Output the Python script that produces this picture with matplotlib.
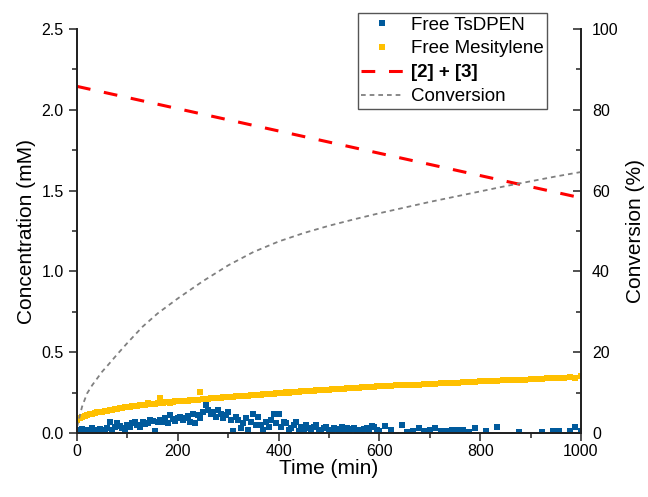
import numpy as np
import matplotlib.pyplot as plt

plt.rcParams['font.family'] = ['Liberation Sans', 'DejaVu Sans']

# sampling times: every 5 min up to 600 min, then every ~11 min up to 1000 min
timeDense = np.arange(0, 601, 5)
timeSparse = np.linspace(600, 1000, 37)[1:]
timeAll = np.concatenate([timeDense, timeSparse])

mesityleneDense = [
    0.078, 0.092, 0.100, 0.106, 0.111, 0.116, 0.119, 0.124, 0.127, 0.130,
    0.133, 0.137, 0.139, 0.142, 0.145, 0.148, 0.151, 0.152, 0.156, 0.158,
    0.160, 0.162, 0.165, 0.166, 0.168, 0.171, 0.172, 0.176, 0.186, 0.177,
    0.181, 0.180, 0.184, 0.214, 0.186, 0.189, 0.190, 0.188, 0.193, 0.195,
    0.196, 0.198, 0.199, 0.201, 0.200, 0.204, 0.204, 0.207, 0.206, 0.252,
    0.209, 0.212, 0.211, 0.215, 0.214, 0.217, 0.216, 0.219, 0.220, 0.222,
    0.221, 0.224, 0.225, 0.226, 0.228, 0.229, 0.230, 0.232, 0.231, 0.234,
    0.235, 0.236, 0.238, 0.238, 0.240, 0.241, 0.242, 0.244, 0.243, 0.246,
    0.247, 0.248, 0.249, 0.251, 0.250, 0.253, 0.254, 0.255, 0.256, 0.257,
    0.258, 0.259, 0.260, 0.262, 0.262, 0.264, 0.264, 0.266, 0.266, 0.268,
    0.268, 0.270, 0.270, 0.272, 0.272, 0.274, 0.274, 0.276, 0.276, 0.278,
    0.278, 0.280, 0.280, 0.282, 0.282, 0.284, 0.284, 0.286, 0.286, 0.288,
    0.289,
]
mesityleneSparse = [
    0.292, 0.293, 0.295, 0.297, 0.298, 0.300, 0.300, 0.303, 0.305, 0.306,
    0.307, 0.309, 0.311, 0.312, 0.314, 0.315, 0.317, 0.319, 0.320, 0.321,
    0.323, 0.325, 0.326, 0.328, 0.330, 0.331, 0.333, 0.334, 0.335, 0.338,
    0.339, 0.340, 0.342, 0.344, 0.338, 0.350,
]

tsdpenDense = [
    0.020, 0.010, 0.025, 0.005, 0.020, 0.015, 0.030, 0.010, 0.020, 0.025,
    0.005, 0.020, 0.030, 0.070, 0.020, 0.035, 0.060, 0.045, 0.030, 0.010,
    0.050, 0.040, 0.060, 0.065, 0.050, 0.035, 0.070, 0.055, 0.060, 0.080,
    0.075, 0.010, 0.065, 0.080, 0.070, 0.090, 0.060, 0.110, 0.085, 0.075,
    0.095, 0.100, 0.080, 0.090, 0.105, 0.070, 0.120, 0.060, 0.110, 0.090,
    0.130, 0.175, 0.140, 0.115, 0.130, 0.100, 0.145, 0.120, 0.090, 0.110,
    0.130, 0.080, 0.010, 0.100, 0.080, 0.030, 0.060, 0.090, 0.020, 0.070,
    0.120, 0.050, 0.100, 0.050, 0.020, 0.070, 0.040, 0.080, 0.120, 0.060,
    0.120, 0.040, 0.070, 0.060, 0.020, 0.030, 0.050, 0.070, 0.010, 0.040,
    0.020, 0.050, 0.030, 0.015, 0.040, 0.050, 0.020, 0.010, 0.030, 0.040,
    0.020, 0.015, 0.030, 0.025, 0.010, 0.035, 0.020, 0.030, 0.010, 0.025,
    0.030, 0.015, 0.020, 0.010, 0.025, 0.030, 0.015, 0.045, 0.040, 0.020,
    0.010,
]
tsdpenSparse = [
    0.045, 0.020, -0.010, 0.050, 0.005, 0.015, 0.030, 0.010, 0.020, 0.030,
    0.015, 0.010, 0.020, 0.020, 0.020, 0.005, 0.030, -0.010, 0.010, -0.020,
    0.035, -0.020, -0.020, -0.010, 0.005, -0.020, -0.030, -0.020, 0.005, -0.020,
    0.012, 0.012, -0.010, 0.012, 0.035, 0.012,
]

# [2] + [3] (mM)
sumTime = [0, 1000]
sumConc = [2.145, 1.455]

# conversion (%)
convTime = [0, 10, 20, 30, 40, 50, 60, 80, 100, 130, 160, 200, 250, 300, 350,
            400, 450, 500, 550, 600, 650, 700, 750, 800, 850, 900, 950, 1000]
convValue = [1.5, 6.5, 9.8, 11.8, 13.5, 15.2, 16.6, 19.5, 22.3, 26.3, 29.6, 33.3,
             37.6, 41.5, 44.8, 47.4, 49.5, 51.3, 52.9, 54.4, 55.8, 57.2, 58.5,
             59.8, 61.1, 62.3, 63.5, 64.6]

mesitylene = mesityleneDense + mesityleneSparse
tsdpen = tsdpenDense + tsdpenSparse

fig = plt.figure(figsize=(6.48, 4.97), dpi=100)
ax = fig.add_axes([77 / 648, 1 - 433 / 497, 504 / 648, 404 / 497])
ax2 = ax.twinx()

p1, = ax.plot(timeAll, tsdpen, 's', color='#005a9c', ms=4.3, mew=0,
              label='Free TsDPEN')
p2, = ax.plot(timeAll, mesitylene, 's', color='#ffc000', ms=4.3, mew=0,
              label='Free Mesitylene')
p3, = ax.plot(sumTime, sumConc, color='#ff0000', lw=2.2, dashes=(4.5, 4.5),
              label='[2] + [3]')
p4, = ax2.plot(convTime, convValue, color='#808080', lw=1.3, dashes=(2.6, 2.2),
               label='Conversion')

ax.set_xlim(0, 1000)
ax.set_ylim(0, 2.5)
ax2.set_ylim(0, 100)
ax.set_xticks(np.arange(0, 1001, 200))
ax.set_xticks(np.arange(100, 1000, 200), minor=True)
ax.set_yticks(np.arange(0, 2.51, 0.5))
ax.set_yticks(np.arange(0.25, 2.5, 0.5), minor=True)
ax.set_yticklabels(['0.0', '0.5', '1.0', '1.5', '2.0', '2.5'])
ax2.set_yticks(np.arange(0, 101, 20))
ax2.set_yticks(np.arange(10, 100, 20), minor=True)

for a in (ax, ax2):
    a.spines['top'].set_visible(False)
    for s in a.spines.values():
        s.set_linewidth(1.3)
        s.set_color('#222222')
ax.tick_params(which='both', direction='out', width=1.1, labelsize=11.5,
               color='#222222')
ax.tick_params(axis='x', pad=2)
ax.tick_params(which='major', length=6)
ax.tick_params(which='minor', length=3.5)
ax2.tick_params(which='both', direction='in', width=1.1, labelsize=11.5,
                color='#222222', pad=8)
ax2.tick_params(which='major', length=6)
ax2.tick_params(which='minor', length=3.5)

ax.set_xlabel('Time (min)', fontsize=15, labelpad=0)
ax.set_ylabel('Concentration (mM)', fontsize=15)
ax2.set_ylabel('Conversion (%)', fontsize=15, labelpad=5)

handles = [p1, p2, p3, p4]
labels = [h.get_label() for h in handles]
leg = fig.legend(handles, labels, loc='upper left',
                 bbox_to_anchor=(358 / 648, 1 - 13 / 497), fontsize=13.5,
                 frameon=True, fancybox=False, framealpha=1, edgecolor='#555555',
                 handlelength=2.25, handletextpad=0.4, labelspacing=0.36,
                 borderpad=0.18, borderaxespad=0, markerscale=1.0)
leg.get_frame().set_linewidth(1.0)
leg.get_texts()[2].set_fontweight('bold')

fig.savefig('out.png', dpi=100)
